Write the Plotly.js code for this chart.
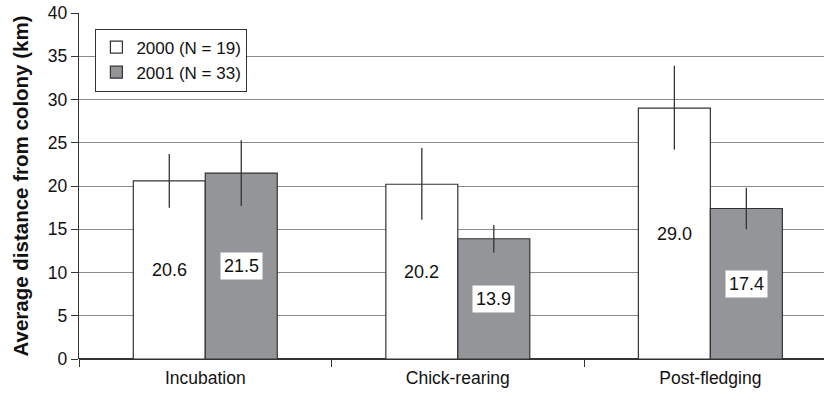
<!DOCTYPE html>
<html>
<head>
<meta charset="utf-8">
<script src="https://cdn.plot.ly/plotly-3.0.1.min.js"></script>
<style>html,body{margin:0;padding:0;background:#fff;}#chart{width:824px;height:394px;}</style>
</head>
<body>
<div id="chart"></div>
<script>
var categories = ["Incubation", "Chick-rearing", "Post-fledging"];
var series2000 = [20.6, 20.2, 29.0];
var series2001 = [21.5, 13.9, 17.4];
var err2000Plus = [3.1, 4.2, 4.9];
var err2000Minus = [3.1, 4.1, 4.8];
var err2001Plus = [3.8, 1.6, 2.4];
var err2001Minus = [3.8, 1.6, 2.4];
var seriesNames = ["2000 (N = 19)", "2001 (N = 33)"];
var yTicks = [0, 5, 10, 15, 20, 25, 30, 35, 40];

var font = "Liberation Sans, Arial, sans-serif";
var traces = [
  {
    type: "bar", name: seriesNames[0], x: categories, y: series2000,
    marker: {color: "#ffffff", line: {color: "#333333", width: 1.2}},
    error_y: {type: "data", symmetric: false, array: err2000Plus, arrayminus: err2000Minus, width: 0, thickness: 1.3, color: "#333333"},
    hoverinfo: "none"
  },
  {
    type: "bar", name: seriesNames[1], x: categories, y: series2001,
    marker: {color: "#939598", line: {color: "#333333", width: 1.2}},
    error_y: {type: "data", symmetric: false, array: err2001Plus, arrayminus: err2001Minus, width: 0, thickness: 1.3, color: "#333333"},
    hoverinfo: "none"
  }
];

var annotations = [];
categories.forEach(function(c, i) {
  annotations.push({x: c, y: series2000[i] / 2, xref: "x", yref: "y", xshift: -36,
    text: series2000[i].toFixed(1), showarrow: false, font: {family: font, size: 18, color: "#111"}});
  annotations.push({x: c, y: series2001[i] / 2, xref: "x", yref: "y", xshift: 36,
    text: series2001[i].toFixed(1), showarrow: false, bgcolor: "#ffffff", borderpad: 3,
    font: {family: font, size: 18, color: "#111"}});
});

var layout = {
  width: 824, height: 394,
  margin: {l: 79, r: 0, t: 13, b: 35},
  paper_bgcolor: "#ffffff", plot_bgcolor: "#ffffff",
  font: {family: font, size: 15, color: "#111"},
  barmode: "group", bargap: 0.43, bargroupgap: 0,
  showlegend: true,
  legend: {x: 0.022, y: 0.955, xanchor: "left", yanchor: "top", bgcolor: "#ffffff",
    bordercolor: "#333333", borderwidth: 1, font: {family: font, size: 17, color: "#111"},
    itemwidth: 30, tracegroupgap: 0},
  xaxis: {
    type: "category", range: [-0.5, 2.45], tickson: "boundaries",
    ticks: "outside", ticklen: 7, tickcolor: "#333", tickwidth: 1,
    showgrid: false, showline: false, zeroline: false, ticklabelstandoff: 6,
    tickfont: {family: font, size: 17.5, color: "#111"}
  },
  yaxis: {
    range: [0, 40], tickvals: yTicks, ticktext: yTicks.map(String),
    ticks: "outside", ticklen: 7, tickcolor: "#333", tickwidth: 1,
    showgrid: true, gridcolor: "#8a8a8a", gridwidth: 1,
    showline: true, linecolor: "#333", linewidth: 1.2,
    zeroline: true, zerolinecolor: "#333", zerolinewidth: 1.5,
    tickfont: {family: font, size: 17.5, color: "#111"},
    title: {text: "Average distance from colony (km)", standoff: 13,
      font: {family: font, size: 20.5, color: "#111", weight: "bold"}}
  },
  annotations: annotations
};

Plotly.newPlot("chart", traces, layout, {displayModeBar: false, staticPlot: true});
</script>
</body>
</html>
